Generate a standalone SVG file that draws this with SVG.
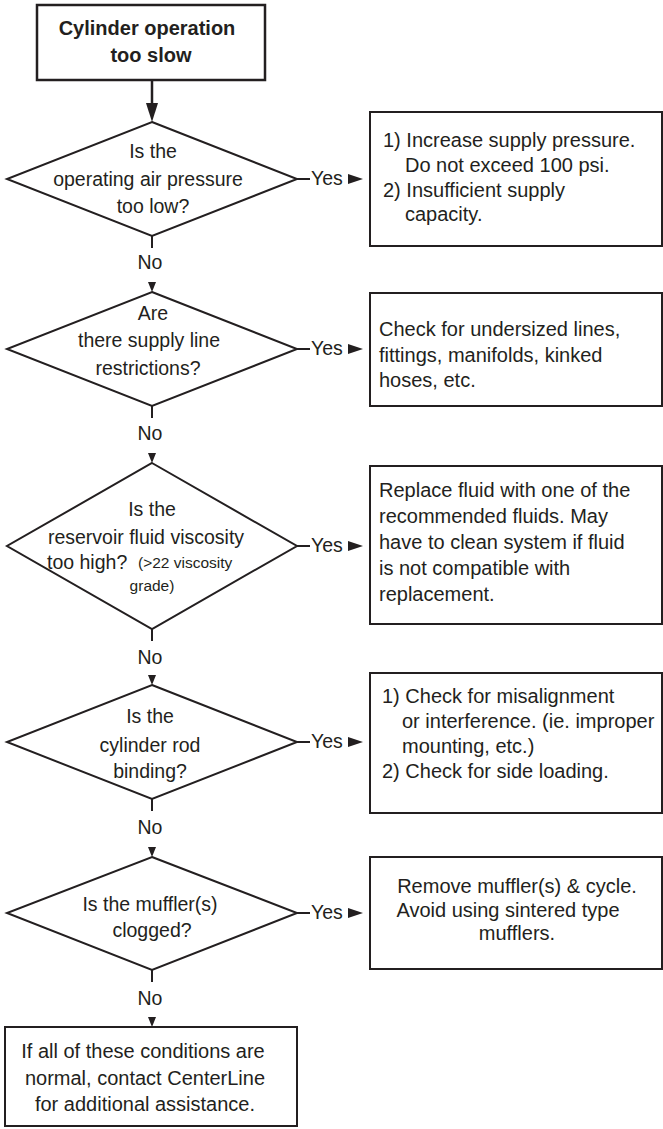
<svg xmlns="http://www.w3.org/2000/svg" width="663" height="1129" viewBox="0 0 663 1129">
<style>
.bg{fill:#ffffff}
.box{fill:#ffffff;stroke:#231f20;stroke-width:2}
.start{fill:#ffffff;stroke:#231f20;stroke-width:2.5}
.dia{fill:#ffffff;stroke:#231f20;stroke-width:2;stroke-linejoin:miter}
.ln{stroke:#231f20;stroke-width:2;fill:none}
.ah{fill:#231f20}
text{font-family:"Liberation Sans",Arial,sans-serif;fill:#231f20}
.t{font-size:20px}
.q{font-size:19.5px;text-anchor:middle}
.s{font-size:15.5px}
.lbl{font-size:19.5px}
.c{text-anchor:middle}
.b{font-weight:bold;font-size:20px;text-anchor:middle}
</style>
<rect class="bg" x="0" y="0" width="663" height="1129"/>

<g id="connectors">
  <line class="ln" x1="152" y1="80" x2="152" y2="104" style="stroke-width:2.5"/>
  <polygon class="ah" points="146,103 158,103 152,122"/>
  <line class="ln" x1="152" y1="236" x2="152" y2="248"/>
  <text class="lbl c" x="150" y="269">No</text>
  <polygon class="ah" points="148,282 156,282 152,292"/>
  <line class="ln" x1="152" y1="406" x2="152" y2="418"/>
  <text class="lbl c" x="150" y="440">No</text>
  <polygon class="ah" points="148,453 156,453 152,463"/>
  <line class="ln" x1="152" y1="629" x2="152" y2="641"/>
  <text class="lbl c" x="150" y="664">No</text>
  <polygon class="ah" points="148,675 156,675 152,685"/>
  <line class="ln" x1="152" y1="799" x2="152" y2="811"/>
  <text class="lbl c" x="150" y="834">No</text>
  <polygon class="ah" points="148,847 156,847 152,857"/>
  <line class="ln" x1="152" y1="970" x2="152" y2="982"/>
  <text class="lbl c" x="150" y="1005">No</text>
  <polygon class="ah" points="148,1017 156,1017 152,1027"/>
  <line class="ln" x1="297" y1="179" x2="310" y2="179"/>
  <text class="lbl" x="311" y="185">Yes</text>
  <polygon class="ah" points="348,174 363,179 348,184"/>
  <line class="ln" x1="297" y1="349" x2="310" y2="349"/>
  <text class="lbl" x="311" y="355">Yes</text>
  <polygon class="ah" points="348,344 363,349 348,354"/>
  <line class="ln" x1="297" y1="546" x2="310" y2="546"/>
  <text class="lbl" x="311" y="552">Yes</text>
  <polygon class="ah" points="348,541 363,546 348,551"/>
  <line class="ln" x1="297" y1="742" x2="310" y2="742"/>
  <text class="lbl" x="311" y="748">Yes</text>
  <polygon class="ah" points="348,737 363,742 348,747"/>
  <line class="ln" x1="297" y1="913" x2="310" y2="913"/>
  <text class="lbl" x="311" y="919">Yes</text>
  <polygon class="ah" points="348,908 363,913 348,918"/>
</g>

<g id="start">
  <rect class="start" x="37" y="5" width="228" height="75"/>
  <text class="b" x="147" y="35">Cylinder operation</text>
  <text class="b" x="151" y="62">too slow</text>
</g>

<g id="q1">
  <polygon class="dia" points="152,122 297,179 152,236 7,179"/>
  <text class="q" x="153" y="158">Is the</text>
  <text class="q" x="148" y="186">operating air pressure</text>
  <text class="q" x="153" y="213">too low?</text>
</g>
<g id="a1">
  <rect class="box" x="370" y="112" width="292" height="134"/>
  <text class="t" x="383" y="147">1) Increase supply pressure.</text>
  <text class="t" x="405" y="172">Do not exceed 100 psi.</text>
  <text class="t" x="383" y="197">2) Insufficient supply</text>
  <text class="t" x="405" y="221">capacity.</text>
</g>

<g id="q2">
  <polygon class="dia" points="152,292 297,349 152,406 7,349"/>
  <text class="q" x="153" y="320">Are</text>
  <text class="q" x="149" y="347">there supply line</text>
  <text class="q" x="148" y="375">restrictions?</text>
</g>
<g id="a2">
  <rect class="box" x="370" y="293" width="292" height="113"/>
  <text class="t" x="379" y="336">Check for undersized lines,</text>
  <text class="t" x="379" y="362">fittings, manifolds, kinked</text>
  <text class="t" x="379" y="387">hoses, etc.</text>
</g>

<g id="q3">
  <polygon class="dia" points="152,463 297,546 152,629 7,546"/>
  <text class="q" x="152" y="516">Is the</text>
  <text class="q" x="146" y="544">reservoir fluid viscosity</text>
  <text class="lbl" x="47" y="569">too high?</text>
  <text class="s" x="138" y="568">(&gt;22 viscosity</text>
  <text class="s c" x="152" y="591">grade)</text>
</g>
<g id="a3">
  <rect class="box" x="370" y="466" width="292" height="158"/>
  <text class="t" x="379" y="497">Replace fluid with one of the</text>
  <text class="t" x="379" y="523">recommended fluids. May</text>
  <text class="t" x="379" y="549">have to clean system if fluid</text>
  <text class="t" x="379" y="575">is not compatible with</text>
  <text class="t" x="379" y="601">replacement.</text>
</g>

<g id="q4">
  <polygon class="dia" points="152,685 297,742 152,799 7,742"/>
  <text class="q" x="150" y="723">Is the</text>
  <text class="q" x="150" y="752">cylinder rod</text>
  <text class="q" x="150" y="778">binding?</text>
</g>
<g id="a4">
  <rect class="box" x="370" y="673" width="292" height="140"/>
  <text class="t" x="382" y="703">1) Check for misalignment</text>
  <text class="t" x="402" y="728">or interference. (ie. improper</text>
  <text class="t" x="402" y="753">mounting, etc.)</text>
  <text class="t" x="382" y="778">2) Check for side loading.</text>
</g>

<g id="q5">
  <polygon class="dia" points="152,857 297,913 152,970 7,913"/>
  <text class="q" x="150" y="911">Is the muffler(s)</text>
  <text class="q" x="152" y="937">clogged?</text>
</g>
<g id="a5">
  <rect class="box" x="370" y="857" width="292" height="112"/>
  <text class="t c" x="517" y="893">Remove muffler(s) &amp; cycle.</text>
  <text class="t c" x="508" y="917">Avoid using sintered type</text>
  <text class="t c" x="517" y="940">mufflers.</text>
</g>

<g id="end">
  <rect class="box" x="5" y="1027" width="292" height="99"/>
  <text class="t c" x="143" y="1058">If all of these conditions are</text>
  <text class="t c" x="145" y="1085">normal, contact CenterLine</text>
  <text class="t c" x="145" y="1111">for additional assistance.</text>
</g>
</svg>
